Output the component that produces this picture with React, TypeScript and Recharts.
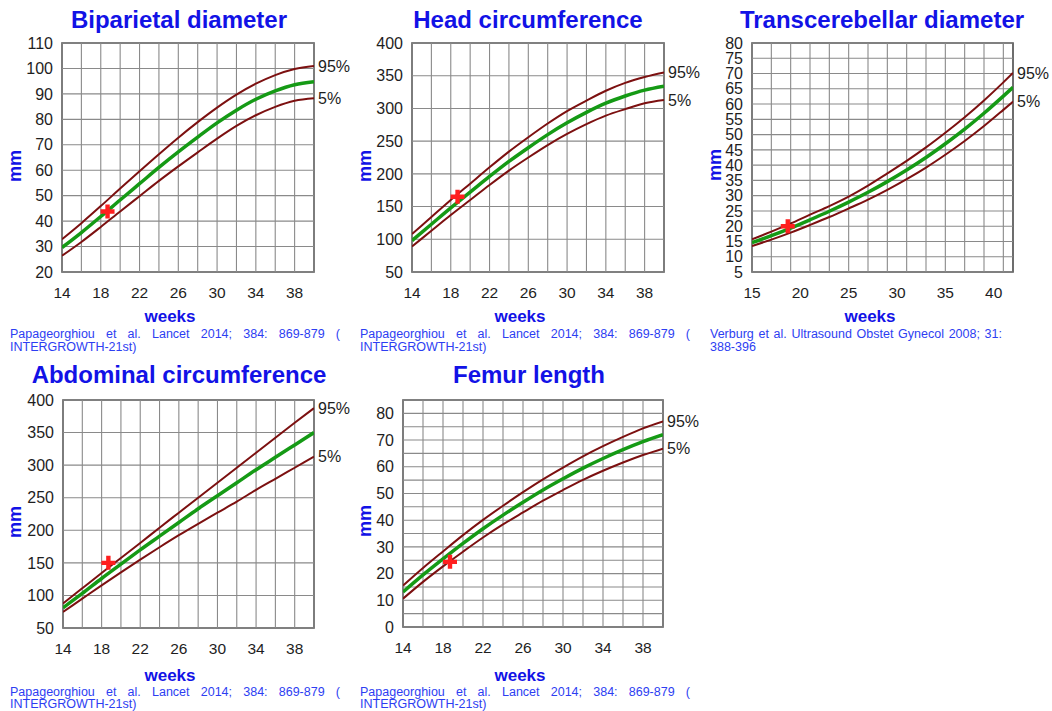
import React from "react";
import {
  ComposedChart,
  Line,
  XAxis,
  YAxis,
  ReferenceLine,
  ReferenceArea,
  ReferenceDot,
} from "recharts";

const FONT = "Arial, 'Liberation Sans', Helvetica, sans-serif";
const BLUE = "#1212e6";
const SOURCE_BLUE = "#2d3ef2";
const CURVE_RED = "#7c1010";
const CURVE_GREEN = "#159a15";
const MARK_RED = "#ff1f1f";
const GRID = "#8a8a8a";
const FRAME = "#4a4a4a";
const TICK = "#1e1e1e";

// INTERGROWTH-21st charts share the same gestational weeks
const gaWeeks = [14, 16, 18, 20, 22, 24, 26, 28, 30, 32, 34, 36, 38, 40];
const gaWeekLabels = [14, 18, 22, 26, 30, 34, 38];
const gaWeekGrid = [14, 16, 18, 20, 22, 24, 26, 28, 30, 32, 34, 36, 38, 40];

// Biparietal diameter (mm)
const bpdP5 = [26.4, 31.8, 37.7, 43.8, 49.8, 55.8, 61.5, 67.0, 72.4, 77.4, 81.6, 84.9, 87.3, 88.3];
const bpdP50 = [29.6, 35.5, 41.8, 48.3, 54.7, 61.1, 67.2, 73.0, 78.6, 83.6, 87.9, 91.2, 93.6, 94.8];
const bpdP95 = [32.9, 39.2, 45.9, 52.8, 59.6, 66.3, 72.8, 78.9, 84.6, 89.7, 94.0, 97.4, 99.8, 101.0];
const bpdTicks = [20, 30, 40, 50, 60, 70, 80, 90, 100, 110];

// Head circumference (mm)
const hcP5 = [89, 113, 137, 160, 183, 205, 225, 244, 261, 276, 289, 299, 308, 313];
const hcP50 = [98, 123, 148, 172, 196, 219, 240, 260, 278, 294, 308, 319, 328, 334];
const hcP95 = [108, 134, 160, 185, 210, 234, 256, 277, 296, 312, 327, 339, 348, 355];
const hcTicks = [50, 100, 150, 200, 250, 300, 350, 400];

// Transcerebellar diameter (mm), Verburg
const tcdWeeks = [15, 17, 19, 21, 23, 25, 27, 29, 31, 33, 35, 37, 39, 41, 42];
const tcdP5 = [13.5, 15.6, 17.9, 20.4, 23.0, 25.8, 28.7, 31.9, 35.4, 39.2, 43.4, 47.9, 52.8, 58.1, 60.8];
const tcdP50 = [14.6, 16.9, 19.4, 22.1, 24.9, 27.9, 31.1, 34.6, 38.4, 42.5, 47.0, 51.8, 57.0, 62.6, 65.5];
const tcdP95 = [15.7, 18.2, 20.9, 23.8, 26.6, 29.7, 33.3, 37.3, 41.4, 45.8, 50.6, 55.7, 61.2, 67.1, 70.2];
const tcdWeekLabels = [15, 20, 25, 30, 35, 40];
const tcdWeekGrid = [15, 17, 19, 21, 23, 25, 27, 29, 31, 33, 35, 37, 39, 41];
const tcdTicks = [5, 10, 15, 20, 25, 30, 35, 40, 45, 50, 55, 60, 65, 70, 75, 80];

// Abdominal circumference (mm)
const acP5 = [74.5, 95, 115.5, 135.5, 155, 174, 192.5, 210, 227, 244, 262, 279, 296, 313];
const acP50 = [81, 103, 126, 148, 170, 191, 212, 233, 253, 273, 293, 312, 331, 350];
const acP95 = [87.5, 111, 134.5, 157.5, 180.5, 204, 227, 250, 273, 296, 319, 342, 365, 387.5];
const acTicks = [50, 100, 150, 200, 250, 300, 350, 400];

// Femur length (mm)
const flP5 = [10.6, 16.9, 22.7, 28.2, 33.5, 38.4, 42.9, 47.3, 51.3, 55.1, 58.5, 61.6, 64.4, 66.8];
const flP50 = [13.1, 19.5, 25.5, 31.3, 36.8, 41.9, 46.7, 51.3, 55.5, 59.5, 63.1, 66.4, 69.4, 72.0];
const flP95 = [15.5, 22.1, 28.3, 34.4, 40.1, 45.4, 50.5, 55.3, 59.7, 63.9, 67.7, 71.2, 74.4, 77.0];
const flTicks = [0, 10, 20, 30, 40, 50, 60, 70, 80];
const flGrid = [0, 5, 10, 15, 20, 25, 30, 35, 40, 45, 50, 55, 60, 65, 70, 75, 80, 85];

// the measured fetus: 18 weeks 5 days
const examWeek = 18.7;
const examBpd = 43.8;
const examHc = 165;
const examTcd = 20;
const examAc = 150;
const examFl = 24.4;

const intergrowthSource =
  "Papageorghiou et al. Lancet 2014; 384: 869-879 ( INTERGROWTH-21st)";
const verburgSource = "Verburg et al. Ultrasound Obstet Gynecol 2008; 31: 388-396";

const CrossMark = (props: any) => {
  const { cx, cy } = props;
  const a = 7;
  const t = 2.2;
  const d = `M${cx - t},${cy - a}h${2 * t}v${a - t}h${a - t}v${2 * t}h${-(a - t)}v${a - t}h${-2 * t}v${-(a - t)}h${-(a - t)}v${-2 * t}h${a - t}z`;
  return <path d={d} fill={MARK_RED} />;
};

interface Box {
  x: number;
  y: number;
  w: number;
  h: number;
}

interface PanelProps {
  title: string;
  plot: Box;
  titleX: number;
  titleTop: number;
  mmX: number;
  mmY: number;
  weeksX: number;
  weeksTop: number;
  sourceX: number;
  sourceTop: number;
  sourceWidth: number;
  sourceLeading: number;
  source: string;
  weeks: number[];
  p5: number[];
  p50: number[];
  p95: number[];
  xDomain: [number, number];
  yDomain: [number, number];
  xLabels: number[];
  xGrid: number[];
  yLabels: number[];
  yGrid: number[];
  markWeek: number;
  markValue: number;
}

const Panel = ({
  title,
  plot,
  titleX,
  titleTop,
  mmX,
  mmY,
  weeksX,
  weeksTop,
  sourceX,
  sourceTop,
  sourceWidth,
  sourceLeading,
  source,
  weeks,
  p5,
  p50,
  p95,
  xDomain,
  yDomain,
  xLabels,
  xGrid,
  yLabels,
  yGrid,
  markWeek,
  markValue,
}: PanelProps) => {
  const rows = weeks.map((week, i) => ({
    week,
    p5: p5[i],
    p50: p50[i],
    p95: p95[i],
  }));
  const last = weeks.length - 1;
  const xTickStyle = { fill: TICK, fontSize: 15.5, fontFamily: FONT };
  const yTickStyle = { fill: TICK, fontSize: 16, fontFamily: FONT };
  const pctLabel = (value: string) => ({
    value,
    position: "right" as const,
    offset: 4,
    fill: TICK,
    fontSize: 16,
    fontFamily: FONT,
  });

  return (
    <>
      <div
        style={{
          position: "absolute",
          left: titleX - 200,
          top: titleTop,
          width: 400,
          textAlign: "center",
          fontSize: 24,
          lineHeight: "24px",
          fontWeight: 700,
          color: BLUE,
        }}
      >
        {title}
      </div>
      <div
        style={{
          position: "absolute",
          left: mmX - 30,
          top: mmY - 10,
          width: 60,
          height: 20,
          lineHeight: "20px",
          textAlign: "center",
          fontSize: 18,
          fontWeight: 700,
          color: BLUE,
          transform: "rotate(-90deg)",
        }}
      >
        mm
      </div>
      <div style={{ position: "absolute", left: plot.x - 50, top: plot.y - 10 }}>
        <ComposedChart
          width={plot.w + 110}
          height={plot.h + 50}
          data={rows}
          margin={{ top: 10, right: 60, bottom: 0, left: 0 }}
        >
          <XAxis
            dataKey="week"
            type="number"
            domain={xDomain}
            ticks={xLabels}
            interval={0}
            axisLine={false}
            tickLine={false}
            tickSize={6}
            tickMargin={9}
            height={40}
            tick={xTickStyle}
            allowDataOverflow
          />
          <YAxis
            type="number"
            domain={yDomain}
            ticks={yLabels}
            interval={0}
            axisLine={false}
            tickLine={false}
            tickSize={6}
            tickMargin={3}
            width={50}
            tick={yTickStyle}
            allowDataOverflow
          />
          {xGrid.map((w) => (
            <ReferenceLine key={`x${w}`} x={w} stroke={GRID} strokeWidth={1.1} />
          ))}
          {yGrid.map((v) => (
            <ReferenceLine key={`y${v}`} y={v} stroke={GRID} strokeWidth={1.1} />
          ))}
          <ReferenceArea
            x1={xDomain[0]}
            x2={xDomain[1]}
            y1={yDomain[0]}
            y2={yDomain[1]}
            fill="none"
            stroke={FRAME}
            strokeWidth={1.6}
          />
          <Line
            dataKey="p5"
            type="monotone"
            stroke={CURVE_RED}
            strokeWidth={2}
            dot={false}
            activeDot={false}
            isAnimationActive={false}
          />
          <Line
            dataKey="p95"
            type="monotone"
            stroke={CURVE_RED}
            strokeWidth={2}
            dot={false}
            activeDot={false}
            isAnimationActive={false}
          />
          <Line
            dataKey="p50"
            type="monotone"
            stroke={CURVE_GREEN}
            strokeWidth={3.5}
            dot={false}
            activeDot={false}
            isAnimationActive={false}
          />
          <ReferenceDot
            x={weeks[last]}
            y={p95[last]}
            r={0}
            fill="none"
            stroke="none"
            label={pctLabel("95%")}
          />
          <ReferenceDot
            x={weeks[last]}
            y={p5[last]}
            r={0}
            fill="none"
            stroke="none"
            label={pctLabel("5%")}
          />
          <ReferenceDot x={markWeek} y={markValue} r={7} shape={CrossMark} />
        </ComposedChart>
      </div>
      <div
        style={{
          position: "absolute",
          left: weeksX - 60,
          top: weeksTop,
          width: 120,
          textAlign: "center",
          fontSize: 17,
          lineHeight: "14px",
          fontWeight: 700,
          color: BLUE,
        }}
      >
        weeks
      </div>
      <div
        style={{
          position: "absolute",
          left: sourceX,
          top: sourceTop,
          width: sourceWidth,
          textAlign: "justify",
          fontSize: 12.5,
          lineHeight: `${sourceLeading}px`,
          color: SOURCE_BLUE,
        }}
      >
        {source}
      </div>
    </>
  );
};

const App = () => {
  return (
    <div
      style={{
        position: "absolute",
        left: 0,
        top: 0,
        width: 1052,
        height: 711,
        background: "#ffffff",
        fontFamily: FONT,
        overflow: "hidden",
      }}
    >
      <Panel
        title="Biparietal diameter"
        plot={{ x: 62, y: 43, w: 252, h: 229 }}
        titleX={179}
        titleTop={8}
        mmX={15}
        mmY={166}
        weeksX={170}
        weeksTop={310}
        sourceX={10}
        sourceTop={328}
        sourceWidth={330}
        sourceLeading={13}
        source={intergrowthSource}
        weeks={gaWeeks}
        p5={bpdP5}
        p50={bpdP50}
        p95={bpdP95}
        xDomain={[14, 40]}
        yDomain={[20, 110]}
        xLabels={gaWeekLabels}
        xGrid={gaWeekGrid}
        yLabels={bpdTicks}
        yGrid={bpdTicks}
        markWeek={examWeek}
        markValue={examBpd}
      />
      <Panel
        title="Head circumference"
        plot={{ x: 412, y: 43, w: 252, h: 229 }}
        titleX={528}
        titleTop={8}
        mmX={365}
        mmY={166}
        weeksX={520}
        weeksTop={310}
        sourceX={360}
        sourceTop={328}
        sourceWidth={330}
        sourceLeading={13}
        source={intergrowthSource}
        weeks={gaWeeks}
        p5={hcP5}
        p50={hcP50}
        p95={hcP95}
        xDomain={[14, 40]}
        yDomain={[50, 400]}
        xLabels={gaWeekLabels}
        xGrid={gaWeekGrid}
        yLabels={hcTicks}
        yGrid={hcTicks}
        markWeek={examWeek}
        markValue={examHc}
      />
      <Panel
        title="Transcerebellar diameter"
        plot={{ x: 752, y: 43, w: 261, h: 229 }}
        titleX={882}
        titleTop={8}
        mmX={715}
        mmY={165}
        weeksX={870}
        weeksTop={310}
        sourceX={710}
        sourceTop={328}
        sourceWidth={292}
        sourceLeading={13}
        source={verburgSource}
        weeks={tcdWeeks}
        p5={tcdP5}
        p50={tcdP50}
        p95={tcdP95}
        xDomain={[15, 42]}
        yDomain={[5, 80]}
        xLabels={tcdWeekLabels}
        xGrid={tcdWeekGrid}
        yLabels={tcdTicks}
        yGrid={tcdTicks}
        markWeek={examWeek}
        markValue={examTcd}
      />
      <Panel
        title="Abdominal circumference"
        plot={{ x: 63, y: 400, w: 251, h: 228 }}
        titleX={179}
        titleTop={363}
        mmX={15}
        mmY={522}
        weeksX={170}
        weeksTop={668.5}
        sourceX={10}
        sourceTop={686}
        sourceWidth={330}
        sourceLeading={12}
        source={intergrowthSource}
        weeks={gaWeeks}
        p5={acP5}
        p50={acP50}
        p95={acP95}
        xDomain={[14, 40]}
        yDomain={[50, 400]}
        xLabels={gaWeekLabels}
        xGrid={gaWeekGrid}
        yLabels={acTicks}
        yGrid={acTicks}
        markWeek={examWeek}
        markValue={examAc}
      />
      <Panel
        title="Femur length"
        plot={{ x: 403, y: 400, w: 260, h: 227 }}
        titleX={529}
        titleTop={363}
        mmX={365}
        mmY={521}
        weeksX={520}
        weeksTop={668.5}
        sourceX={360}
        sourceTop={686}
        sourceWidth={330}
        sourceLeading={12}
        source={intergrowthSource}
        weeks={gaWeeks}
        p5={flP5}
        p50={flP50}
        p95={flP95}
        xDomain={[14, 40]}
        yDomain={[0, 85]}
        xLabels={gaWeekLabels}
        xGrid={gaWeekGrid}
        yLabels={flTicks}
        yGrid={flGrid}
        markWeek={examWeek}
        markValue={examFl}
      />
    </div>
  );
};

export default App;
